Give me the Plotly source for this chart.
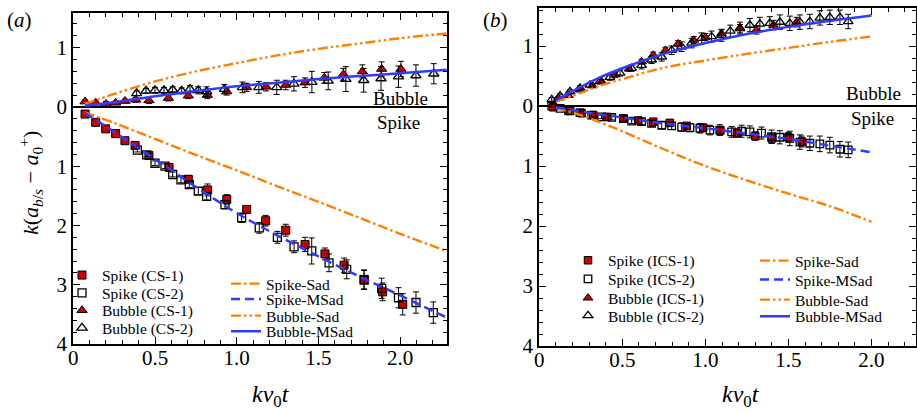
import plotly.graph_objects as go

FONT = "Liberation Serif, Times New Roman, Times, DejaVu Serif, serif"
RED = "#cc0000"
ORANGE = "#ff8000"
BLUE = "#2f3cff"

# ---------------- Panel (a) data ----------------
a_spike_cs1_x = [0.072, 0.137, 0.198, 0.259, 0.316, 0.378, 0.463, 0.586, 0.704, 0.822, 0.939, 1.061, 1.177, 1.300, 1.418, 1.540, 1.657, 1.779, 1.893, 2.016]
a_spike_cs1_y = [-0.12, -0.26, -0.37, -0.45, -0.57, -0.65, -0.82, -1.02, -1.22, -1.40, -1.56, -1.73, -1.92, -2.08, -2.32, -2.48, -2.67, -2.91, -3.12, -3.33]
a_spike_cs1_e = [0.02, 0.02, 0.03, 0.03, 0.03, 0.04, 0.04, 0.05, 0.06, 0.10, 0.08, 0.05, 0.09, 0.10, 0.12, 0.10, 0.12, 0.16, 0.15, 0.18]

a_spike_cs2_x = [0.392, 0.449, 0.500, 0.561, 0.608, 0.659, 0.710, 0.765, 0.816, 0.928, 1.030, 1.138, 1.249, 1.351, 1.459, 1.565, 1.673, 1.780, 1.887, 1.990, 2.097, 2.203]
a_spike_cs2_y = [-0.73, -0.81, -0.95, -1.00, -1.14, -1.23, -1.31, -1.42, -1.51, -1.65, -1.87, -2.04, -2.20, -2.36, -2.43, -2.63, -2.74, -2.92, -3.06, -3.22, -3.30, -3.47]
a_spike_cs2_e = [0.03, 0.03, 0.04, 0.04, 0.04, 0.05, 0.05, 0.06, 0.06, 0.07, 0.08, 0.09, 0.10, 0.10, 0.22, 0.15, 0.16, 0.16, 0.17, 0.17, 0.18, 0.18]

a_bub_cs1_x = [0.072, 0.137, 0.200, 0.259, 0.316, 0.382, 0.463, 0.582, 0.704, 0.820, 0.939, 1.061, 1.180, 1.300, 1.418, 1.536, 1.653, 1.769, 1.887, 2.005]
a_bub_cs1_y = [0.09, 0.07, 0.05, 0.07, 0.10, 0.12, 0.11, 0.15, 0.19, 0.20, 0.26, 0.33, 0.34, 0.37, 0.41, 0.49, 0.55, 0.60, 0.64, 0.64]
a_bub_cs1_e = [0.03, 0.03, 0.04, 0.03, 0.03, 0.04, 0.05, 0.05, 0.05, 0.06, 0.06, 0.07, 0.07, 0.08, 0.08, 0.09, 0.10, 0.11, 0.12, 0.13]

a_bub_cs2_x = [0.388, 0.445, 0.500, 0.555, 0.608, 0.663, 0.714, 0.765, 0.816, 0.925, 1.035, 1.135, 1.245, 1.350, 1.460, 1.560, 1.668, 1.777, 1.883, 1.990, 2.097, 2.206]
a_bub_cs2_y = [0.23, 0.27, 0.28, 0.28, 0.29, 0.27, 0.30, 0.28, 0.26, 0.30, 0.33, 0.33, 0.33, 0.39, 0.42, 0.44, 0.47, 0.45, 0.48, 0.51, 0.53, 0.56]
a_bub_cs2_e = [0.04, 0.04, 0.05, 0.05, 0.05, 0.05, 0.06, 0.06, 0.08, 0.08, 0.09, 0.10, 0.12, 0.12, 0.18, 0.15, 0.21, 0.20, 0.20, 0.18, 0.18, 0.17]

a_line_x = [0.07, 0.25, 0.5, 0.75, 1.0, 1.25, 1.5, 1.75, 2.0, 2.29]
a_spike_msad = [-0.10, -0.42, -0.88, -1.35, -1.79, -2.17, -2.52, -2.86, -3.18, -3.56]
a_spike_sad = [-0.09, -0.27, -0.54, -0.81, -1.07, -1.34, -1.60, -1.87, -2.14, -2.44]
a_bub_sad = [0.05, 0.22, 0.43, 0.60, 0.74, 0.87, 0.98, 1.07, 1.16, 1.24]
a_bub_msad = [0.02, 0.08, 0.18, 0.27, 0.35, 0.41, 0.47, 0.52, 0.57, 0.63]

# ---------------- Panel (b) data ----------------
b_spike_ics1_x = [0.084, 0.175, 0.255, 0.325, 0.405, 0.506, 0.596, 0.686, 0.786, 0.887, 0.987, 1.090, 1.190, 1.300, 1.400, 1.500, 1.580]
b_spike_ics1_y = [-0.02, -0.08, -0.12, -0.15, -0.18, -0.21, -0.24, -0.26, -0.28, -0.33, -0.36, -0.41, -0.45, -0.50, -0.54, -0.52, -0.59]
b_spike_ics1_e = [0.01, 0.02, 0.02, 0.03, 0.03, 0.03, 0.04, 0.04, 0.05, 0.05, 0.06, 0.06, 0.07, 0.07, 0.08, 0.08, 0.09]

b_spike_ics2_x = [0.075, 0.125, 0.185, 0.245, 0.315, 0.375, 0.436, 0.506, 0.556, 0.616, 0.676, 0.737, 0.797, 0.857, 0.907, 0.967, 1.027, 1.087, 1.158, 1.218, 1.268, 1.338, 1.398, 1.448, 1.508, 1.569, 1.629, 1.689, 1.749, 1.810, 1.860]
b_spike_ics2_y = [0.0, -0.04, -0.08, -0.11, -0.15, -0.18, -0.19, -0.21, -0.25, -0.26, -0.29, -0.32, -0.33, -0.35, -0.36, -0.37, -0.40, -0.40, -0.43, -0.42, -0.43, -0.45, -0.51, -0.52, -0.54, -0.60, -0.62, -0.63, -0.65, -0.72, -0.73]
b_spike_ics2_e = [0.02, 0.02, 0.02, 0.03, 0.03, 0.03, 0.04, 0.04, 0.04, 0.05, 0.05, 0.06, 0.06, 0.07, 0.07, 0.08, 0.08, 0.09, 0.09, 0.10, 0.10, 0.10, 0.11, 0.11, 0.12, 0.12, 0.12, 0.13, 0.13, 0.13, 0.13]

b_bub_ics1_x = [0.114, 0.175, 0.245, 0.320, 0.375, 0.455, 0.540, 0.616, 0.686, 0.760, 0.836, 0.930, 1.000, 1.097, 1.208, 1.308, 1.410, 1.549]
b_bub_ics1_y = [0.13, 0.18, 0.27, 0.34, 0.41, 0.52, 0.62, 0.74, 0.85, 0.93, 1.04, 1.10, 1.15, 1.21, 1.29, 1.27, 1.35, 1.40]
b_bub_ics1_e = [0.02, 0.02, 0.03, 0.03, 0.03, 0.04, 0.04, 0.04, 0.05, 0.05, 0.05, 0.06, 0.06, 0.06, 0.07, 0.07, 0.08, 0.08]

b_bub_ics2_x = [0.075, 0.125, 0.185, 0.245, 0.305, 0.365, 0.425, 0.486, 0.556, 0.616, 0.676, 0.737, 0.797, 0.857, 0.917, 0.977, 1.037, 1.097, 1.150, 1.208, 1.268, 1.328, 1.388, 1.448, 1.508, 1.569, 1.629, 1.689, 1.749, 1.810, 1.860]
b_bub_ics2_y = [0.11, 0.17, 0.24, 0.30, 0.35, 0.41, 0.48, 0.55, 0.63, 0.68, 0.77, 0.82, 0.93, 0.99, 1.05, 1.13, 1.16, 1.18, 1.25, 1.30, 1.35, 1.37, 1.38, 1.40, 1.38, 1.40, 1.41, 1.47, 1.48, 1.48, 1.41]
b_bub_ics2_e = [0.03, 0.03, 0.03, 0.04, 0.04, 0.04, 0.05, 0.05, 0.05, 0.06, 0.06, 0.07, 0.07, 0.08, 0.08, 0.09, 0.09, 0.10, 0.10, 0.10, 0.11, 0.11, 0.11, 0.12, 0.12, 0.12, 0.12, 0.12, 0.12, 0.12, 0.12]

b_line_x = [0.1, 0.25, 0.375, 0.5, 0.75, 1.0, 1.25, 1.5, 1.75, 2.0]
b_bub_msad = [0.10, 0.32, 0.49, 0.63, 0.87, 1.05, 1.20, 1.32, 1.42, 1.51]
b_bub_sad = [0.07, 0.22, 0.35, 0.45, 0.64, 0.76, 0.87, 0.97, 1.07, 1.16]
b_spike_msad = [-0.02, -0.09, -0.14, -0.19, -0.29, -0.37, -0.46, -0.55, -0.66, -0.77]
b_spike_sad = [-0.03, -0.15, -0.28, -0.42, -0.72, -1.00, -1.24, -1.46, -1.67, -1.93]

# ---------------- Ticks ----------------
x_tickvals = [0, 0.5, 1.0, 1.5, 2.0]
x_ticktext = ["0", "0.5", "1.0", "1.5", "2.0"]
y_tickvals = [-4, -3, -2, -1, 0, 1]
y_ticktext = ["4", "3", "2", "1", "0", "1"]

DASH_DOT = "10px,3px,2.5px,3px"
DASH_DOT_DOT = "10px,3px,2.5px,3px,2.5px,3px"
DASHED = "9px,5px"

W, H = 917, 412
fig = go.Figure()
legend_specs = {}


def new_legend(xpx, ypx):
    key = "legend" if not legend_specs else "legend%d" % (len(legend_specs) + 1)
    legend_specs[key] = dict(x=xpx / W, xanchor="left", y=1 - ypx / H, yanchor="middle",
                             bgcolor="rgba(0,0,0,0)", borderwidth=0, tracegroupgap=0,
                             font=dict(family=FONT, size=15.5, color="black"), itemwidth=30)
    return key


def add_points(x, y, e, name, symbol, fill, size, xa, ya, lpos):
    is_open = fill is None
    fig.add_trace(go.Scatter(
        x=x, y=y, mode="markers", name=name, xaxis=xa, yaxis=ya, legend=new_legend(*lpos),
        marker=dict(symbol=symbol, size=size,
                    color="black" if is_open else fill,
                    line=dict(color="black", width=1.3 if is_open else 1.0)),
        error_y=dict(type="data", array=e, visible=True, color="black",
                     thickness=1, width=3),
    ))


def add_line(x, y, name, color, dash, width, xa, ya, lpos):
    fig.add_trace(go.Scatter(
        x=x, y=y, mode="lines", name=name, xaxis=xa, yaxis=ya, legend=new_legend(*lpos),
        line=dict(color=color, dash=dash, width=width, shape="spline", smoothing=1.0),
    ))


# Panel (a)
add_points(a_spike_cs1_x, a_spike_cs1_y, a_spike_cs1_e, "Spike (CS-1)", "square", RED, 8, "x", "y", (62, 275.5))
add_points(a_spike_cs2_x, a_spike_cs2_y, a_spike_cs2_e, "Spike (CS-2)", "square-open", None, 8, "x", "y", (62, 293.3))
add_points(a_bub_cs1_x, a_bub_cs1_y, a_bub_cs1_e, "Bubble (CS-1)", "triangle-up", RED, 9, "x", "y", (62, 310.7))
add_points(a_bub_cs2_x, a_bub_cs2_y, a_bub_cs2_e, "Bubble (CS-2)", "triangle-up-open", None, 9, "x", "y", (62, 328.3))
add_line(a_line_x, a_spike_sad, "Spike-Sad", ORANGE, DASH_DOT, 2.4, "x", "y", (226, 284))
add_line(a_line_x, a_spike_msad, "Spike-MSad", BLUE, DASHED, 2.5, "x", "y", (226, 299.5))
add_line(a_line_x, a_bub_sad, "Bubble-Sad", ORANGE, DASH_DOT_DOT, 2.4, "x", "y", (226, 316))
add_line(a_line_x, a_bub_msad, "Bubble-MSad", BLUE, "solid", 2.5, "x", "y", (226, 331.7))

# Panel (b)
add_points(b_spike_ics1_x, b_spike_ics1_y, b_spike_ics1_e, "Spike (ICS-1)", "square", RED, 7.5, "x2", "y2", (568, 260.7))
add_points(b_spike_ics2_x, b_spike_ics2_y, b_spike_ics2_e, "Spike (ICS-2)", "square-open", None, 7.5, "x2", "y2", (568, 279.3))
add_points(b_bub_ics1_x, b_bub_ics1_y, b_bub_ics1_e, "Bubble (ICS-1)", "triangle-up", RED, 8.5, "x2", "y2", (568, 298.3))
add_points(b_bub_ics2_x, b_bub_ics2_y, b_bub_ics2_e, "Bubble (ICS-2)", "triangle-up-open", None, 8.5, "x2", "y2", (568, 316))
add_line(b_line_x, b_spike_sad, "Spike-Sad", ORANGE, DASH_DOT, 2.4, "x2", "y2", (755, 261))
add_line(b_line_x, b_spike_msad, "Spike-MSad", BLUE, DASHED, 2.5, "x2", "y2", (755, 280))
add_line(b_line_x, b_bub_sad, "Bubble-Sad", ORANGE, DASH_DOT_DOT, 2.4, "x2", "y2", (755, 300))
add_line(b_line_x, b_bub_msad, "Bubble-MSad", BLUE, "solid", 2.5, "x2", "y2", (755, 316.7))


def xaxis(domain, rng):
    return dict(domain=domain, range=rng, tickmode="array", tickvals=x_tickvals, ticktext=x_ticktext,
                ticks="inside", ticklen=7, tickwidth=1.3, tickcolor="black", ticklabelstandoff=-6,
                minor=dict(tickmode="linear", tick0=0, dtick=0.1, ticks="inside", ticklen=4,
                           tickwidth=1, tickcolor="black", showgrid=False),
                showline=True, linewidth=2, linecolor="black", mirror="allticks",
                showgrid=False, zeroline=False, automargin=False,
                tickfont=dict(family=FONT, size=21, color="black"))


def yaxis(domain, rng, anchor):
    return dict(domain=domain, range=rng, anchor=anchor, tickmode="array", tickvals=y_tickvals,
                ticktext=y_ticktext, ticks="inside", ticklen=7, tickwidth=1.3, tickcolor="black",
                minor=dict(tickmode="linear", tick0=0, dtick=0.2, ticks="inside", ticklen=4,
                           tickwidth=1, tickcolor="black", showgrid=False),
                showline=True, linewidth=2, linecolor="black", mirror="allticks",
                showgrid=False, zeroline=True, zerolinecolor="black", zerolinewidth=1.6,
                automargin=False, tickfont=dict(family=FONT, size=21, color="black"))


fig.update_layout(
    width=W, height=H, margin=dict(l=0, r=0, t=0, b=0),
    paper_bgcolor="white", plot_bgcolor="white",
    font=dict(family=FONT, color="black"),
    xaxis=dict(xaxis([73.3 / W, 446.7 / W], [0, 2.285]), anchor="y"),
    yaxis=yaxis([(H - 344) / H, (H - 12.7) / H], [-4, 1.59], "x"),
    xaxis2=dict(xaxis([539.3 / W, 916.0 / W], [0, 2.268]), anchor="y2"),
    yaxis2=yaxis([(H - 346) / H, (H - 8.3) / H], [-4, 1.63], "x2"),
    showlegend=True,
    **legend_specs,
)

ann = [
    dict(text="(<i>a</i>)", x=19 / W, y=1 - 20 / H, font=dict(size=21)),
    dict(text="(<i>b</i>)", x=495 / W, y=1 - 20 / H, font=dict(size=21)),
    dict(text="Bubble", x=400 / W, y=1 - 98 / H, font=dict(size=19)),
    dict(text="Spike", x=398 / W, y=1 - 123 / H, font=dict(size=19)),
    dict(text="Bubble", x=873 / W, y=1 - 93 / H, font=dict(size=19)),
    dict(text="Spike", x=872 / W, y=1 - 118 / H, font=dict(size=19)),
    dict(text="<i>kv</i><sub>0</sub><i>t</i>", x=271 / W, y=1 - 396 / H, font=dict(size=24)),
    dict(text="<i>kv</i><sub>0</sub><i>t</i>", x=741 / W, y=1 - 396 / H, font=dict(size=24)),
    dict(text="<i>k</i>(<i>a</i><sub><i>b</i>/<i>s</i></sub> − <i>a</i><sub>0</sub><sup>+</sup>)",
         x=30 / W, y=1 - 183 / H, textangle=-90, font=dict(size=22)),
]
for a in ann:
    a.update(xref="paper", yref="paper", showarrow=False, xanchor="center", yanchor="middle")
    a["font"].update(family=FONT, color="black")
    fig.add_annotation(**a)

fig.write_html("out.html", config={"displayModeBar": False},
               post_script="document.body.style.margin='0px';")
